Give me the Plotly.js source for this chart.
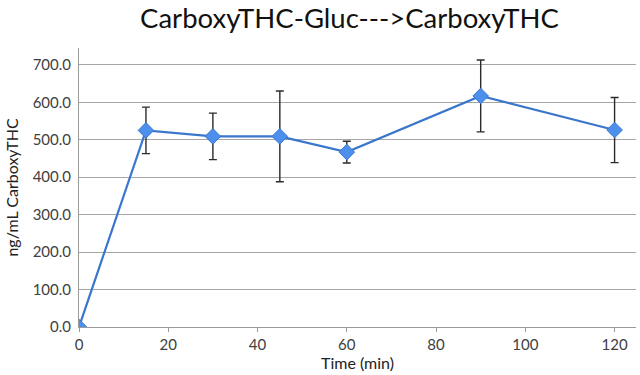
<!DOCTYPE html>
<html>
<head>
<meta charset="utf-8">
<script src="https://cdn.plot.ly/plotly-3.0.1.min.js"></script>
<style>html,body{margin:0;padding:0;background:#fff;}#chart{width:640px;height:375px;}</style>
</head>
<body>
<div id="chart"></div>
<script>
const timeMin = [0, 15, 30, 45, 60, 90, 120];
const carboxyTHC = [0, 525, 509, 509, 467, 617, 526];
const errorSD = [0, 62, 62, 121, 29, 96, 87];
const titleText = "CarboxyTHC-Gluc--->CarboxyTHC";
const xLabel = "Time (min)";
const yLabel = "ng/mL CarboxyTHC";

const font = "Lato, 'Open Sans', sans-serif";

Plotly.newPlot("chart", [{
  x: timeMin,
  y: carboxyTHC,
  type: "scatter",
  mode: "lines+markers",
  line: {color: "#3A77CC", width: 2.2},
  marker: {symbol: "diamond", size: 12, color: "#4C8FEC", line: {color: "#3A77CC", width: 1}},
  error_y: {type: "data", array: errorSD, visible: true, color: "#2b2b2b", thickness: 1.4, width: 4},
  showlegend: false
}], {
  width: 640, height: 375,
  margin: {l: 79, r: 4, t: 48, b: 48},
  paper_bgcolor: "#fff", plot_bgcolor: "#fff",
  font: {family: font, color: "#404040", size: 15},
  title: {text: titleText, font: {family: font, size: 27.5, color: "#111"}, x: 0.546, xanchor: "center", y: 0.952, yanchor: "middle"},
  xaxis: {
    range: [0, 124.8], tickvals: [0,20,40,60,80,100,120], showgrid: false, zeroline: false,
    showline: true, linecolor: "#9a9a9a", linewidth: 1,
    ticks: "outside", ticklen: 4, tickcolor: "#9a9a9a",
    title: {text: xLabel, font: {size: 16, color: "#222"}, standoff: 4},
    tickfont: {size: 15}
  },
  yaxis: {
    range: [0, 745], dtick: 100, tick0: 0, tickformat: ".1f",
    showgrid: true, gridcolor: "#a6a6a6", gridwidth: 1, zeroline: false,
    showline: true, linecolor: "#9a9a9a", linewidth: 1,
    ticks: "", ticklabelstandoff: 4,
    title: {text: yLabel, font: {size: 16, color: "#222"}, standoff: 10},
    tickfont: {size: 15}
  }
}, {displayModeBar: false, staticPlot: true});
</script>
</body>
</html>
